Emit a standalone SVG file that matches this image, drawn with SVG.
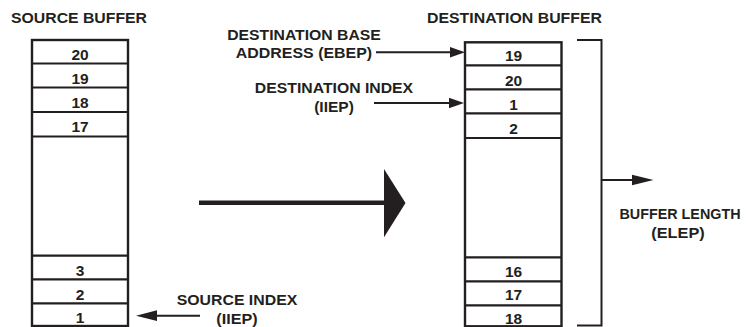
<svg xmlns="http://www.w3.org/2000/svg" width="746" height="327" viewBox="0 0 746 327">
<style>
  text { font-family: "Liberation Sans", Arial, Helvetica, sans-serif; font-weight: bold; font-size: 15.5px; fill: #231f20; text-anchor: middle; }
  .box { fill: #ffffff; stroke: #231f20; stroke-width: 2.4; }
  .div { stroke: #231f20; stroke-width: 2.2; fill: none; }
  .ln { stroke: #231f20; stroke-width: 2; fill: none; }
  .head { fill: #231f20; }
</style>
<rect width="746" height="327" fill="#ffffff"/>

<g id="source-title"><text x="79" y="22.5" textLength="136" lengthAdjust="spacingAndGlyphs">SOURCE BUFFER</text></g>
<g id="dest-title"><text x="514.5" y="22.5" textLength="175" lengthAdjust="spacingAndGlyphs">DESTINATION BUFFER</text></g>

<g id="source-buffer">
  <rect class="box" x="32" y="40" width="96" height="286"/>
  <path class="div" d="M32 63.5H128M32 87.5H128M32 112H128M32 136.5H128M32 255.7H128M32 279.3H128M32 303.3H128"/>
  <text x="80" y="59.5">20</text>
  <text x="80" y="83.5">19</text>
  <text x="80" y="107.5">18</text>
  <text x="80" y="131.5">17</text>
  <text x="80" y="275.5">3</text>
  <text x="80" y="299.5">2</text>
  <text x="80" y="323">1</text>
</g>

<g id="dest-buffer">
  <rect class="box" x="465" y="42.3" width="96.5" height="284"/>
  <path class="div" d="M465 65.3H561.5M465 89.3H561.5M465 113.3H561.5M465 138H561.5M465 257.3H561.5M465 281.3H561.5M465 305.3H561.5"/>
  <text x="513.5" y="61">19</text>
  <text x="513.5" y="85.5">20</text>
  <text x="513.5" y="109.5">1</text>
  <text x="513.5" y="133.5">2</text>
  <text x="513.5" y="276.5">16</text>
  <text x="513.5" y="300">17</text>
  <text x="513.5" y="324">18</text>
</g>

<g id="bracket">
  <path class="ln" d="M577 40H601.5V325.5H577"/>
</g>

<g id="label-dest-base">
  <text x="304" y="40" textLength="153.7" lengthAdjust="spacingAndGlyphs">DESTINATION BASE</text>
  <text x="304" y="58" textLength="136.3" lengthAdjust="spacingAndGlyphs">ADDRESS (EBEP)</text>
</g>
<g id="label-dest-index">
  <text x="334" y="93" textLength="158.3" lengthAdjust="spacingAndGlyphs">DESTINATION INDEX</text>
  <text x="334" y="112" textLength="39.7" lengthAdjust="spacingAndGlyphs">(IIEP)</text>
</g>
<g id="label-source-index">
  <text x="237" y="305" textLength="120.6" lengthAdjust="spacingAndGlyphs">SOURCE INDEX</text>
  <text x="237" y="323.5" textLength="41.3" lengthAdjust="spacingAndGlyphs">(IIEP)</text>
</g>
<g id="label-buffer-length">
  <text x="680" y="219.3" style="font-size:14.5px" textLength="121" lengthAdjust="spacingAndGlyphs">BUFFER LENGTH</text>
  <text x="678" y="237.5" textLength="53.3" lengthAdjust="spacingAndGlyphs">(ELEP)</text>
</g>

<g id="connectors">
  <line class="ln" x1="376" y1="52.3" x2="452" y2="52.3"/>
  <polygon class="head" points="450,47 465,52.3 450,57.6"/>
  <line class="ln" x1="374" y1="103" x2="450" y2="103"/>
  <polygon class="head" points="449,97.7 464,103 449,108.3"/>
  <line class="ln" x1="200" y1="315.7" x2="154" y2="315.7"/>
  <polygon class="head" points="157,310.3 136,315.7 157,321.1"/>
  <line class="ln" x1="601.5" y1="180" x2="634" y2="180"/>
  <polygon class="head" points="632,174.8 653.5,180 632,185.2"/>
  <line x1="199" y1="202.8" x2="386" y2="202.8" stroke="#231f20" stroke-width="4.5"/>
  <polygon class="head" points="384,169 405.5,203 384,237.3"/>
</g>
</svg>
